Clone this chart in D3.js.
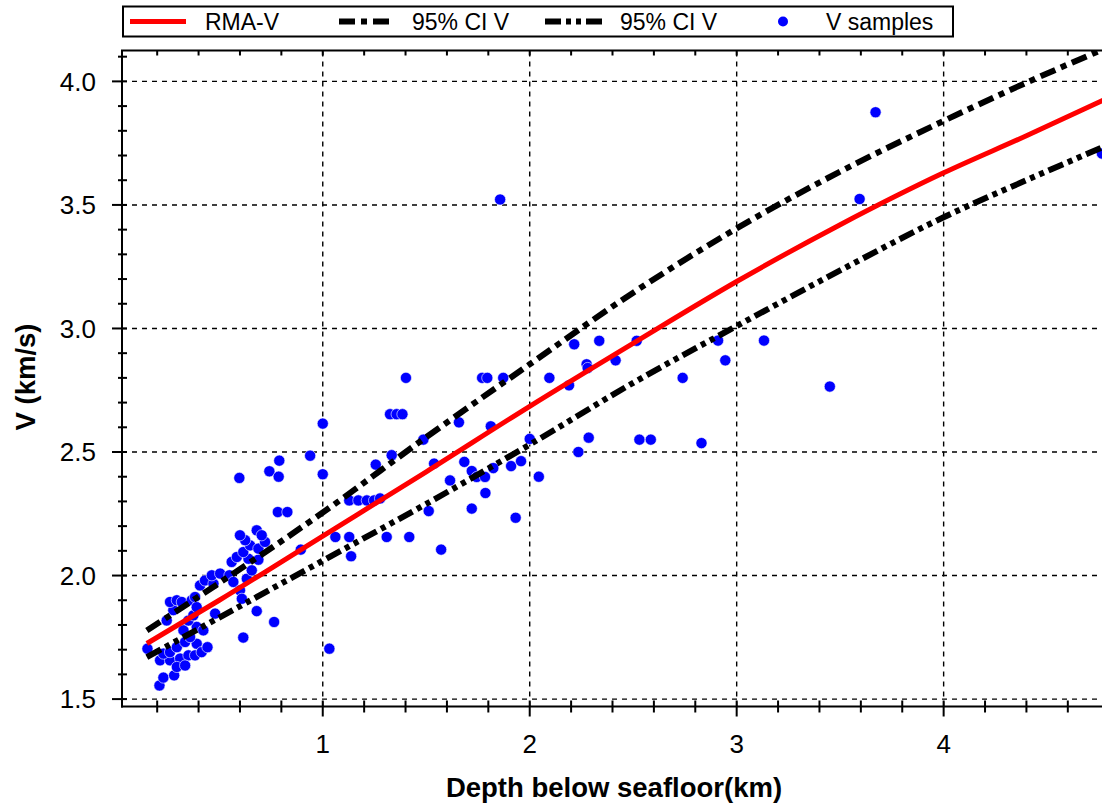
<!DOCTYPE html>
<html>
<head>
<meta charset="utf-8">
<script src="https://cdn.jsdelivr.net/npm/d3@7/dist/d3.min.js"></script>
<style>
  html, body { margin: 0; padding: 0; background: #fff; }
  svg { display: block; }
  text { font-family: "Liberation Sans", Arial, Helvetica, sans-serif; fill: #000; }
</style>
</head>
<body>
<svg id="chart" width="1102" height="807"></svg>
<script>
// Sample depths (km below seafloor) and interval velocities (km/s)
const sampleDepth = [
  0.211, 0.230, 0.282, 0.153, 0.214, 0.262, 0.311, 0.351, 0.295, 0.335, 0.230, 0.262,
  0.295, 0.335, 0.391, 0.383, 0.415, 0.443, 0.359, 0.327, 0.391, 0.423, 0.351, 0.375,
  0.246, 0.278, 0.262, 0.295, 0.319, 0.367, 0.383, 0.391, 0.480, 0.407, 0.431, 0.472,
  0.464, 0.504, 0.549, 0.568, 0.600, 0.609, 0.633, 0.616, 0.681, 0.765, 0.657, 0.641,
  0.689, 0.560, 0.585, 0.616, 0.649, 0.689, 0.721, 0.625, 0.600, 0.681, 0.705, 0.597,
  0.742, 0.790, 0.787, 0.939, 1.000, 1.000, 0.783, 0.829, 0.894, 1.032, 1.061, 1.128,
  1.137, 1.309, 1.418, 1.572, 1.512, 1.720, 1.932, 1.128, 1.172, 1.213, 1.248, 1.277,
  1.256, 1.333, 1.402, 1.325, 1.357, 1.385, 1.486, 1.538, 1.658, 1.615, 1.684, 1.720,
  1.744, 1.784, 1.824, 1.786, 1.812, 1.770, 1.795, 1.872, 1.857, 1.910, 1.958, 2.000,
  2.044, 2.095, 2.190, 2.215, 2.275, 2.280, 2.336, 2.415, 2.517, 2.235, 2.285, 2.530,
  2.585, 2.739, 2.830, 2.910, 2.945, 3.132, 3.450, 3.594, 3.671, 4.765
];
const sampleVelocity = [
  1.555, 1.587, 1.596, 1.704, 1.657, 1.657, 1.664, 1.677, 1.630, 1.636, 1.684, 1.690,
  1.710, 1.731, 1.724, 1.677, 1.690, 1.710, 1.751, 1.778, 1.792, 1.778, 1.818, 1.839,
  1.818, 1.860, 1.893, 1.900, 1.893, 1.900, 1.913, 1.872, 1.846, 1.960, 1.980, 1.967,
  2.001, 2.008, 2.001, 1.974, 1.940, 1.906, 1.987, 1.749, 1.856, 1.812, 2.021, 2.068,
  2.064, 2.055, 2.075, 2.095, 2.122, 2.109, 2.136, 2.143, 2.163, 2.183, 2.163, 2.395,
  2.422, 2.465, 2.400, 2.485, 2.615, 2.410, 2.257, 2.257, 2.105, 1.704, 2.156, 2.156,
  2.078, 2.156, 2.156, 2.105, 2.261, 2.271, 2.234, 2.304, 2.304, 2.304, 2.304, 2.312,
  2.449, 2.487, 2.800, 2.653, 2.653, 2.653, 2.550, 2.453, 2.620, 2.385, 2.460, 2.423,
  2.399, 2.399, 2.435, 2.334, 2.604, 2.800, 2.800, 2.800, 3.522, 2.443, 2.463, 2.553,
  2.400, 2.800, 2.770, 2.936, 2.855, 2.840, 2.950, 2.871, 2.950, 2.500, 2.558, 2.550,
  2.550, 2.800, 2.536, 2.951, 2.871, 2.951, 2.765, 3.524, 3.875, 3.708
];

// Reduced-major-axis fit and its 95% confidence band
const fitDepth = [0.15, 0.5, 1.0, 1.5, 2.0, 2.5, 3.0, 3.5, 4.0, 4.4, 4.8];
const rmaV     = [1.725, 1.900, 2.160, 2.420, 2.685, 2.940, 3.190, 3.420, 3.630, 3.780, 3.935];
const ciUpper  = [1.778, 1.970, 2.255, 2.560, 2.855, 3.145, 3.405, 3.635, 3.840, 3.995, 4.140];
const ciLower  = [1.670, 1.830, 2.060, 2.290, 2.530, 2.780, 3.010, 3.235, 3.450, 3.600, 3.745];

const xTickLabels = [1, 2, 3, 4];
const yTickLabels = ["1.5", "2.0", "2.5", "3.0", "3.5", "4.0"];
const legendLabels = ["RMA-V", "95% CI V", "95% CI V", "V samples"];

const plot = { left: 122, right: 1103, top: 50.5, bottom: 706.5 };

const svg = d3.select("#chart");

const x = d3.scaleLinear().domain([0.03, 4.77]).range([plot.left, plot.right]);
const y = d3.scaleLinear().domain([1.47, 4.125]).range([plot.bottom, plot.top]);

svg.append("defs").append("clipPath").attr("id", "plotClip")
  .append("rect")
  .attr("x", plot.left).attr("y", plot.top)
  .attr("width", plot.right - plot.left).attr("height", plot.bottom - plot.top);

// Dashed grid at the major ticks
const grid = svg.append("g").attr("stroke", "#000").attr("stroke-width", 1.4)
  .attr("stroke-dasharray", "5,5");
xTickLabels.forEach(v => {
  grid.append("line").attr("x1", x(v)).attr("x2", x(v))
    .attr("y1", plot.bottom).attr("y2", plot.top);
});
yTickLabels.forEach(v => {
  grid.append("line").attr("x1", plot.left).attr("x2", plot.right)
    .attr("y1", y(+v)).attr("y2", y(+v));
});

const body = svg.append("g").attr("clip-path", "url(#plotClip)");

// Samples
const samples = sampleDepth.map((d, i) => ({ d, v: sampleVelocity[i] }));
body.append("g").selectAll("circle").data(samples).join("circle")
  .attr("cx", s => x(s.d)).attr("cy", s => y(s.v)).attr("r", 5.6)
  .attr("fill", "#0000ff").attr("stroke", "#fff").attr("stroke-width", 0.6);

// Fit and confidence lines
const line = d3.line().x(p => x(p[0])).y(p => y(p[1])).curve(d3.curveMonotoneX);
const pts = arr => fitDepth.map((d, i) => [d, arr[i]]);

body.append("path").datum(pts(ciUpper)).attr("d", line)
  .attr("fill", "none").attr("stroke", "#000").attr("stroke-width", 6)
  .attr("stroke-dasharray", "16,6,6,6");
body.append("path").datum(pts(ciLower)).attr("d", line)
  .attr("fill", "none").attr("stroke", "#000").attr("stroke-width", 6)
  .attr("stroke-dasharray", "16,5,5,5,5,5");
body.append("path").datum(pts(rmaV)).attr("d", line)
  .attr("fill", "none").attr("stroke", "#ff0000").attr("stroke-width", 5);

// Frame
const frame = svg.append("g").attr("stroke", "#000").attr("stroke-width", 2).attr("fill", "none");
frame.append("line").attr("x1", plot.left).attr("x2", plot.left).attr("y1", plot.top).attr("y2", plot.bottom + 1);
frame.append("line").attr("x1", plot.left - 1).attr("x2", plot.right).attr("y1", plot.bottom).attr("y2", plot.bottom);
frame.append("line").attr("x1", plot.left - 1).attr("x2", plot.right).attr("y1", plot.top).attr("y2", plot.top);

// Ticks
const ticks = svg.append("g").attr("stroke", "#000").attr("stroke-width", 2);
const yMinor = d3.range(15, 42).map(v => v / 10);
yMinor.forEach(v => {
  const major = Math.abs(v * 2 - Math.round(v * 2)) < 1e-6;
  ticks.append("line").attr("x1", major ? plot.left - 10 : plot.left - 4).attr("x2", plot.left + 5)
    .attr("y1", y(v)).attr("y2", y(v));
});
const xMinor = d3.range(1, 24).map(v => v / 5);
xMinor.forEach(v => {
  const major = Math.abs(v - Math.round(v)) < 1e-6;
  ticks.append("line").attr("x1", x(v)).attr("x2", x(v))
    .attr("y1", plot.bottom - 6).attr("y2", plot.bottom + (major ? 10 : 6));
  ticks.append("line").attr("x1", x(v)).attr("x2", x(v))
    .attr("y1", plot.top).attr("y2", plot.top + 5);
});

// Tick labels
svg.append("g").selectAll("text").data(yTickLabels).join("text")
  .attr("x", 96).attr("y", v => y(+v)).attr("dy", "0.36em")
  .attr("text-anchor", "end").attr("font-size", 26).text(v => v);
svg.append("g").selectAll("text").data(xTickLabels).join("text")
  .attr("x", v => x(v)).attr("y", 744).attr("dy", "0.36em")
  .attr("text-anchor", "middle").attr("font-size", 26).text(v => v);

// Axis titles
svg.append("text").attr("x", 614).attr("y", 797)
  .attr("text-anchor", "middle").attr("font-size", 27.5).attr("font-weight", "bold")
  .text("Depth below seafloor(km)");
svg.append("text")
  .attr("transform", "translate(35,377) rotate(-90)")
  .attr("text-anchor", "middle").attr("font-size", 27.5).attr("font-weight", "bold")
  .text("V (km/s)");

// Legend
const lg = svg.append("g");
lg.append("rect").attr("x", 123).attr("y", 6.5).attr("width", 830).attr("height", 30)
  .attr("fill", "#fff").attr("stroke", "#000").attr("stroke-width", 2);
const ly = 21.5;
lg.append("line").attr("x1", 130).attr("x2", 186).attr("y1", ly).attr("y2", ly)
  .attr("stroke", "#ff0000").attr("stroke-width", 5);
lg.append("line").attr("x1", 339).attr("x2", 392).attr("y1", ly).attr("y2", ly)
  .attr("stroke", "#000").attr("stroke-width", 6).attr("stroke-dasharray", "16,6,6,6");
lg.append("line").attr("x1", 545).attr("x2", 606).attr("y1", ly).attr("y2", ly)
  .attr("stroke", "#000").attr("stroke-width", 6).attr("stroke-dasharray", "16,5,5,5,5,5");
lg.append("circle").attr("cx", 783).attr("cy", ly).attr("r", 5).attr("fill", "#0000ff");
const legendX = [205, 412, 620, 826];
lg.selectAll("text.lbl").data(legendLabels).join("text").attr("class", "lbl")
  .attr("x", (d, i) => legendX[i]).attr("y", ly).attr("dy", "0.36em")
  .attr("font-size", 23).text(d => d);
</script>
</body>
</html>
